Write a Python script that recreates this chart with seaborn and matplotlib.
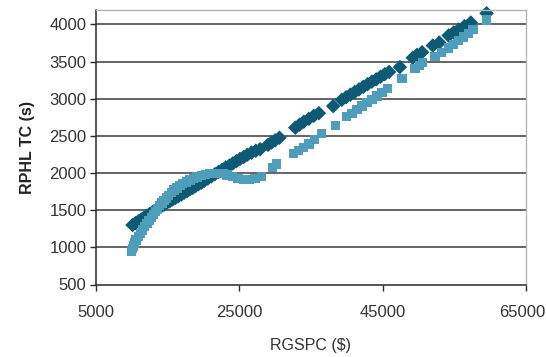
import numpy as np
import pandas as pd
import matplotlib
matplotlib.use("Agg")
import matplotlib.pyplot as plt
import matplotlib.transforms as mtransforms
import seaborn as sns

# Values
dark_x = [10100, 10500, 10900, 11300, 11700, 12100, 12500, 12900, 13300, 13700,
          14100, 14500, 14900, 15300, 15700, 16100, 16500, 16900, 17300, 17700,
          18100, 18500, 18900, 19300, 19700, 20100, 20600, 21100, 21600, 22100,
          22600, 23100, 23600, 24100, 24600, 25100, 25600, 26100, 26700, 27300,
          27900, 29000, 29500, 30000, 30600, 32800, 33400, 34000, 34700, 35400,
          36100, 38100, 39300, 39900, 40500, 41100, 41700, 42300, 42900, 43500,
          44100, 44700, 45300, 45900, 47400, 49200, 49800, 50500, 52000, 52900,
          54200, 54900, 55600, 56400, 57300, 59500]
dark_y = [1300, 1325, 1350, 1375, 1400, 1425, 1450, 1475, 1500, 1525,
          1550, 1575, 1600, 1620, 1645, 1665, 1690, 1710, 1735, 1755,
          1780, 1800, 1825, 1850, 1870, 1895, 1925, 1955, 1985, 2015,
          2045, 2075, 2100, 2130, 2160, 2190, 2215, 2245, 2275, 2300,
          2320, 2380, 2410, 2440, 2475, 2610, 2650, 2690, 2730, 2770,
          2805, 2900, 2985, 3020, 3055, 3090, 3125, 3160, 3195, 3230,
          3260, 3295, 3330, 3360, 3425, 3550, 3590, 3625, 3715, 3755,
          3850, 3890, 3930, 3975, 4025, 4150]

light_x = [10000, 10100, 10200, 10400, 10600, 10900, 11200, 11500, 11800, 12100,
           12400, 12700, 13000, 13300, 13600, 13900, 14200, 14500, 14800, 15100,
           15500, 15900, 16300, 16700, 17100, 17600, 18100, 18600, 19100, 19700,
           20300, 20900, 21500, 22100, 22700, 23300, 24000, 24800, 25600, 26400,
           27200, 28100, 29600, 30200, 32600, 33300, 34000, 34700, 35500, 36500,
           38400, 40000, 40700, 41400, 42100, 42800, 43500, 44200, 44900, 45700,
           47700, 49500, 50100, 50600, 52300, 53200, 54200, 54900, 55600, 56300,
           57000, 57600, 59500]
light_y = [940, 980, 1020, 1060, 1100, 1145, 1190, 1235, 1280, 1320,
           1360, 1400, 1440, 1480, 1520, 1560, 1595, 1630, 1665, 1700,
           1735, 1770, 1800, 1830, 1855, 1880, 1905, 1925, 1945, 1965,
           1980, 1990, 1995, 1995, 1990, 1975, 1950, 1925, 1915, 1915,
           1925, 1950, 2070, 2120, 2265, 2300, 2340, 2390, 2450, 2530,
           2640, 2760, 2805, 2855, 2900, 2945, 2990, 3035, 3080, 3140,
           3275, 3410, 3450, 3490, 3570, 3620, 3680, 3730, 3780, 3830,
           3880, 3930, 4060]

df = pd.concat([
    pd.DataFrame({"RGSPC": dark_x, "RPHL": dark_y, "series": "dark"}),
    pd.DataFrame({"RGSPC": light_x, "RPHL": light_y, "series": "light"}),
])

sns.set_theme(style="white")
plt.rcParams["font.family"] = ["Liberation Sans", "DejaVu Sans"]

fig = plt.figure(figsize=(5.46, 3.57), dpi=100)
ax = fig.add_axes([96 / 546, 1 - 284.5 / 357, 430 / 546, 275 / 357])

# horizontal grid lines
for yv in range(1000, 4001, 500):
    ax.axhline(yv, color="#3a3a3a", lw=1.1, zorder=0)

sns.scatterplot(data=df[df.series == "dark"], x="RGSPC", y="RPHL", marker="D",
                s=55, color="#0e5a74", edgecolor="none", ax=ax, zorder=2,
                clip_on=False)
sns.scatterplot(data=df[df.series == "light"], x="RGSPC", y="RPHL", marker="s",
                s=45, color="#4e9dba", edgecolor="none", ax=ax, zorder=3,
                clip_on=False)

ax.set_xlim(5000, 65000)
ax.set_ylim(500, 4200)
ax.set_xticks([5000, 25000, 45000, 65000])
ax.set_yticks(range(500, 4001, 500))

for side in ["top", "right"]:
    ax.spines[side].set_color("#b5b5b5")
    ax.spines[side].set_linewidth(1.0)
for side in ["left", "bottom"]:
    ax.spines[side].set_color("#2a2a2a")
    ax.spines[side].set_linewidth(1.1)

ax.tick_params(axis="both", which="major", direction="out", length=4,
               width=1.0, color="#2a2a2a", labelsize=12, labelcolor="#333333",
               left=True, bottom=True, pad=3)
ax.tick_params(axis="x", pad=11)

# keep the last x label inside the canvas
last = ax.get_xticklabels()[-1]
last.set_transform(last.get_transform() +
                   mtransforms.ScaledTranslation(-4 / 100, 0, fig.dpi_scale_trans))

ax.set_xlabel("RGSPC ($)", fontsize=11.5, color="#333333", labelpad=13)
ax.set_ylabel("RPHL TC (s)", fontsize=11.5, fontweight="bold", color="#222222",
              labelpad=10)

fig.savefig("out.png", dpi=100)
